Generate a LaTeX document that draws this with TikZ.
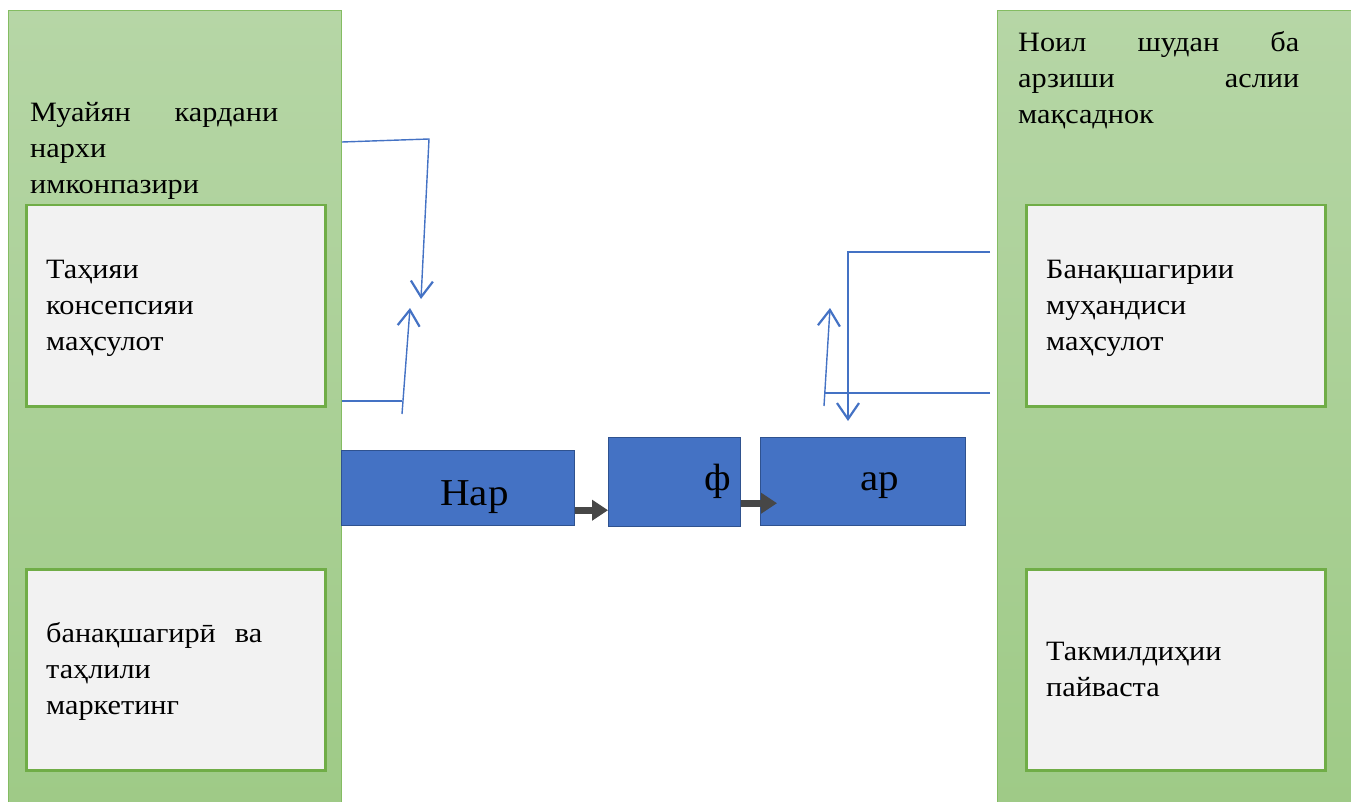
\documentclass[tikz,border=0pt]{standalone}
\usepackage{fontspec}
\setmainfont[FakeStretch=1.08]{Liberation Serif}
\usetikzlibrary{arrows.meta,calc}
\definecolor{panelTop}{HTML}{B6D6A6}
\definecolor{panelBot}{HTML}{9ECA86}
\definecolor{panelEdge}{HTML}{84BC62}
\definecolor{cardEdge}{HTML}{70AD47}
\definecolor{cardFill}{HTML}{F2F2F2}
\definecolor{stepFill}{HTML}{4472C4}
\definecolor{stepEdge}{HTML}{2F528F}
\definecolor{flowGray}{HTML}{474747}
\definecolor{linkBlue}{HTML}{4472C4}
\newcommand\stacktext[1]{\parbox[t]{300pt}{\raggedright #1}}
\newcommand\spread[2]{\leavevmode\hbox to #1{#2}}
\begin{document}
\begin{tikzpicture}[x=1pt,y=-1pt,
  panel/.style={draw=panelEdge, line width=1pt, top color=panelTop, bottom color=panelBot,
    anchor=north west, inner sep=0pt},
  card/.style={draw=cardEdge, line width=2.5pt, fill=cardFill, anchor=north west,
    minimum width=299pt, minimum height=201pt, inner sep=0pt},
  stepbox/.style={draw=stepEdge, line width=1.2pt, fill=stepFill, anchor=north west, inner sep=0pt},
  txt/.style={anchor=base west, inner sep=0pt, font=\fontsize{28}{36}\selectfont},
  big/.style={anchor=base west, inner sep=0pt, font=\fontsize{38}{44}\selectfont},
  flow/.style={draw=flowGray, line width=7pt, -{Triangle[length=16pt,width=20pt]}},
  link/.style={draw=linkBlue, line width=1.4pt},
  linkarrow/.style={link, -{Straight Barb[length=16pt,width=22pt,line width=2.2pt]}}]
\useasboundingbox (0,0) rectangle (1351,802);
\clip (0,0) rectangle (1351,802);

% side panels
\node[panel, minimum width=333pt, minimum height=810pt] (lpanel) at (8,10) {};
\node[panel, minimum width=370pt, minimum height=810pt] (rpanel) at (997,10) {};

% cards inside the panels
\node[card] (lcard1) at (25,204) {};
\node[card] (lcard2) at (25,568) {};
\node[card] (rcard1) at (1025,204) {};
\node[card] (rcard2) at (1025,568) {};

% panel headings
\node[txt] (ltitle) at (30,122) {\stacktext{\spread{248pt}{Муайян\hfill кардани}\\нархи\\имконпазири}};
\node[txt] (rtitle) at (1018,52) {\stacktext{\spread{281pt}{Ноил\hfill шудан\hfill ба}\\\spread{281pt}{арзиши\hfill аслии}\\мақсаднок}};

% card texts
\node[txt] (lcard1text) at (46,278) {\stacktext{Таҳияи\\консепсияи\\маҳсулот}};
\node[txt] (lcard2text) at (46,642) {\stacktext{\spread{216pt}{банақшагирӣ\hfill ва}\\таҳлили\\маркетинг}};
\node[txt] (rcard1text) at (1046,278) {\stacktext{Банақшагирии\\муҳандиси\\маҳсулот}};
\node[txt] (rcard2text) at (1046,660) {\stacktext{Такмилдиҳии\\пайваста}};

% blue step boxes
\node[stepbox, minimum width=233pt, minimum height=75pt] (nar) at (341,450) {};
\node[stepbox, minimum width=132pt, minimum height=89pt] (fbox) at (608,437) {};
\node[stepbox, minimum width=205pt, minimum height=88pt] (arbox) at (760,437) {};
\node[big] (nartext) at (440,505) {Нар};
\node[big] (ftext) at (704,490) {ф};
\node[big] (artext) at (860,490) {ар};

% grey flow arrows
\draw[flow] ($(nar.south east)+(0,-16)$) -- ($(fbox.south west)+(0,-17)$);
\draw[flow] ($(fbox.south east)+(0,-24)$) -- ($(arbox.south west)+(17,-23)$);

% blue link lines, left side
\coordinate (la1) at (lpanel.east |- 0,142);
\coordinate (la2) at (429,139);
\coordinate (la3) at (421,299);
\draw[linkarrow] (la1) -- (la2) -- (la3);
\coordinate (lb1) at (lpanel.east |- 0,401);
\coordinate (lb2) at (402,401);
\draw[link] (lb1) -- (lb2);
\coordinate (lc1) at (402,414);
\coordinate (lc2) at (410,308);
\draw[linkarrow] (lc1) -- (lc2);

% blue link lines, right side
\coordinate (ra1) at (990,252);
\coordinate (ra2) at (848,252);
\coordinate (ra3) at (848,421);
\draw[linkarrow] (ra1) -- (ra2) -- (ra3);
\coordinate (rb1) at (990,393);
\coordinate (rb2) at (825,393);
\draw[link] (rb1) -- (rb2);
\coordinate (rc1) at (824,406);
\coordinate (rc2) at (830,308);
\draw[linkarrow] (rc1) -- (rc2);
\end{tikzpicture}
\end{document}
